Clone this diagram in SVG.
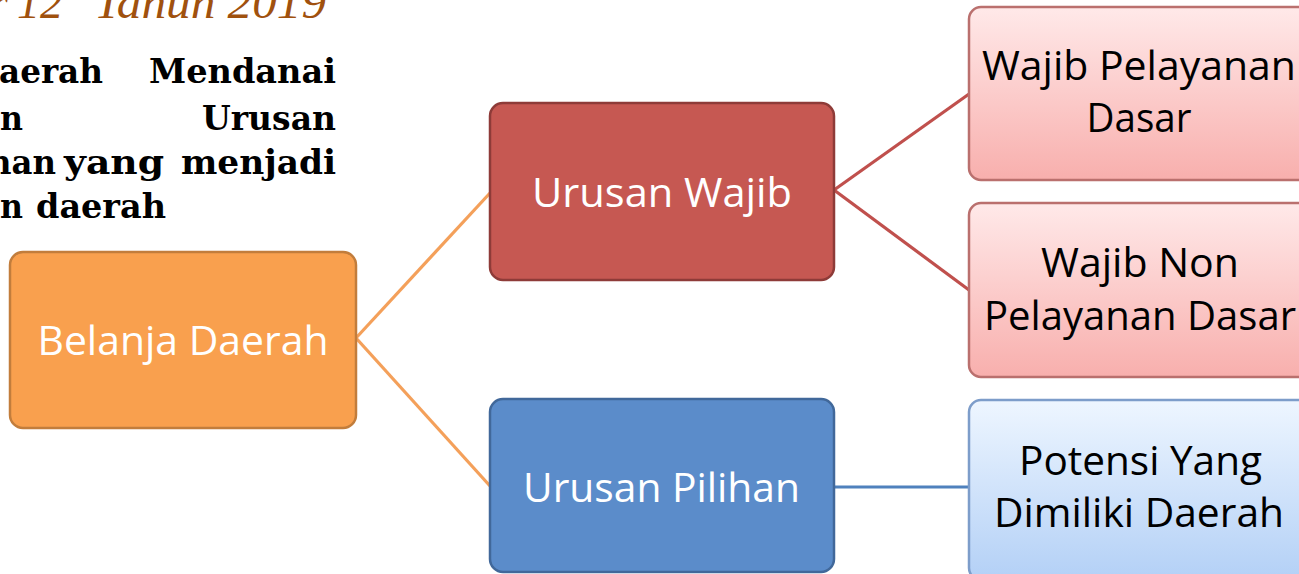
<svg xmlns="http://www.w3.org/2000/svg" width="1299" height="574" viewBox="0 0 1299 574">
<defs>
<linearGradient id="pink" x1="0" y1="0" x2="0" y2="1">
<stop offset="0" stop-color="#FFE9E9"/>
<stop offset="1" stop-color="#F8AFAD"/>
</linearGradient>
<linearGradient id="lblue" x1="0" y1="0" x2="0" y2="1">
<stop offset="0" stop-color="#EEF6FF"/>
<stop offset="1" stop-color="#B3D0F6"/>
</linearGradient>
<style>
.box{stroke-width:2.5}
.lbl{font-family:"Open Sans","Noto Sans",sans-serif;font-size:41px;text-anchor:middle}
.w{fill:#FFFFFF}
.k{fill:#000000;font-size:40px}
.bold{font-family:"DejaVu Serif","Liberation Serif",serif;font-weight:bold;font-size:34px;fill:#000000}
.title{font-family:"Liberation Serif","Times New Roman",serif;font-style:italic;font-size:46px;fill:#A0510E}
.con{fill:none;stroke-width:3.2}
</style>
</defs>
<rect width="1299" height="574" fill="#FFFFFF"/>

<g id="header">
<text class="title" y="18"><tspan x="-10">r</tspan> <tspan x="17" textLength="46" lengthAdjust="spacingAndGlyphs">12</tspan> <tspan x="94" textLength="232" lengthAdjust="spacingAndGlyphs">Tahun 2019</tspan></text>
<text class="bold" y="83"><tspan x="-1" textLength="104" lengthAdjust="spacingAndGlyphs">aerah</tspan> <tspan x="149" textLength="187" lengthAdjust="spacingAndGlyphs">Mendanai</tspan></text>
<text class="bold" y="130"><tspan x="0" textLength="23" lengthAdjust="spacingAndGlyphs">n</tspan> <tspan x="202" textLength="134" lengthAdjust="spacingAndGlyphs">Urusan</tspan></text>
<text class="bold" y="174"><tspan x="-12" textLength="68" lengthAdjust="spacingAndGlyphs">han</tspan> <tspan x="64" textLength="100" lengthAdjust="spacingAndGlyphs">yang</tspan> <tspan x="181" textLength="155" lengthAdjust="spacingAndGlyphs">menjadi</tspan></text>
<text class="bold" y="218"><tspan x="0" textLength="23" lengthAdjust="spacingAndGlyphs">n</tspan> <tspan x="36" textLength="130" lengthAdjust="spacingAndGlyphs">daerah</tspan></text>
</g>

<g id="connectors">
<line class="con" stroke="#F4A05A" x1="356" y1="338" x2="490" y2="193"/>
<line class="con" stroke="#F4A05A" x1="356" y1="338" x2="490" y2="486"/>
<line class="con" stroke="#C0504D" x1="834" y1="190" x2="969" y2="94"/>
<line class="con" stroke="#C0504D" x1="834" y1="190" x2="969" y2="290"/>
<line class="con" stroke="#4F81BD" x1="834" y1="487" x2="969" y2="487"/>
</g>

<g id="belanja-daerah">
<rect class="box" x="10" y="252" width="346" height="176" rx="13" fill="#F9A04E" stroke="#C27D3C"/>
<text class="lbl w" x="183" y="355" textLength="291" lengthAdjust="spacingAndGlyphs">Belanja Daerah</text>
</g>

<g id="urusan-wajib">
<rect class="box" x="490" y="103" width="344" height="177" rx="13" fill="#C65852" stroke="#8E3B38"/>
<text class="lbl w" x="662" y="207" textLength="260" lengthAdjust="spacingAndGlyphs">Urusan Wajib</text>
</g>

<g id="urusan-pilihan">
<rect class="box" x="490" y="399" width="344" height="173" rx="13" fill="#5B8CCA" stroke="#41689A"/>
<text class="lbl w" x="661.5" y="502" textLength="277" lengthAdjust="spacingAndGlyphs">Urusan Pilihan</text>
</g>

<g id="wajib-pelayanan-dasar">
<rect class="box" x="969" y="7" width="345" height="173" rx="12" fill="url(#pink)" stroke="#BA706E"/>
<text class="lbl k" x="1139" y="80" textLength="314" lengthAdjust="spacingAndGlyphs">Wajib Pelayanan</text>
<text class="lbl k" x="1139" y="132" textLength="105" lengthAdjust="spacingAndGlyphs">Dasar</text>
</g>

<g id="wajib-non-pelayanan-dasar">
<rect class="box" x="969" y="203" width="345" height="174" rx="12" fill="url(#pink)" stroke="#BA706E"/>
<text class="lbl k" x="1140" y="277" textLength="198" lengthAdjust="spacingAndGlyphs">Wajib Non</text>
<text class="lbl k" x="1140" y="330" textLength="312" lengthAdjust="spacingAndGlyphs">Pelayanan Dasar</text>
</g>

<g id="potensi-yang-dimiliki-daerah">
<rect class="box" x="969" y="400" width="345" height="180" rx="12" fill="url(#lblue)" stroke="#7D9DCA"/>
<text class="lbl k" x="1140.5" y="475" textLength="243" lengthAdjust="spacingAndGlyphs">Potensi Yang</text>
<text class="lbl k" x="1139" y="527" textLength="290" lengthAdjust="spacingAndGlyphs">Dimiliki Daerah</text>
</g>
</svg>
